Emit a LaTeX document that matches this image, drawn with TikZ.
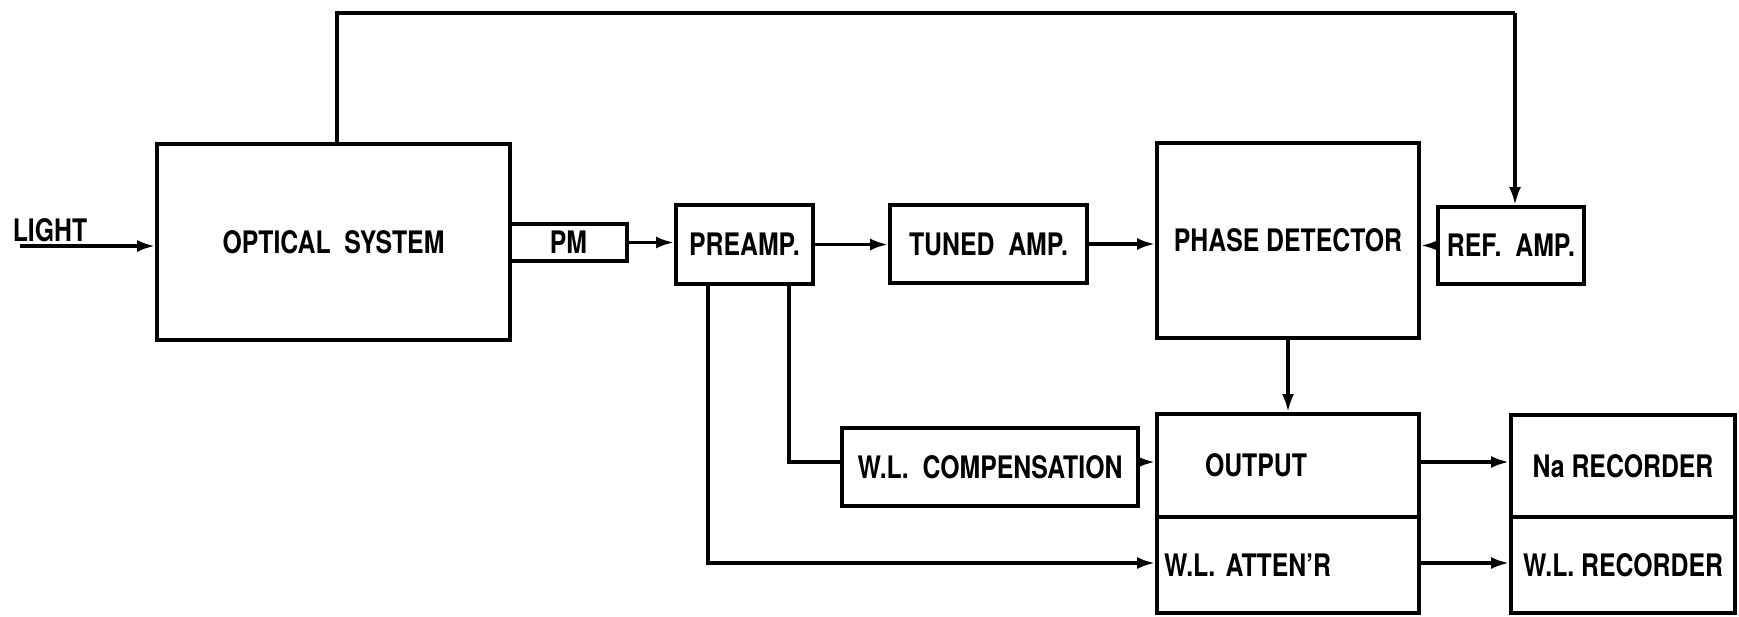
\documentclass[tikz,border=0pt]{standalone}
\usepackage{fontspec}
\setmainfont{TeX Gyre Heros}[FakeStretch=0.8]
\usetikzlibrary{arrows.meta}
\frenchspacing
\begin{document}
\begin{tikzpicture}[x=0.5pt,y=-0.5pt,
  box/.style={draw, line width=2pt, inner sep=0pt, font=\fontsize{15.5}{18}\bfseries\selectfont},
  lbox/.style={box, align=left},
  conn/.style={line width=1.6pt},
  arr/.style={conn, -{Latex[length=9pt,width=6pt]}},
  lbl/.style={inner sep=0pt, font=\fontsize{15.5}{18}\bfseries\selectfont}]
\useasboundingbox (0,0) rectangle (1739,616);
% boxes
\node[box, minimum width=176.5pt, minimum height=98pt] (opt) at (333.5,242) {OPTICAL\ \ SYSTEM};
\node[box, minimum width=58.5pt, minimum height=18.5pt] (pm) at (568.5,242.5) {PM};
\node[box, minimum width=68.5pt, minimum height=39.5pt] (pre) at (744.5,244.5) {PREAMP.};
\node[box, minimum width=98.5pt, minimum height=39pt] (tuned) at (988.5,244) {TUNED\ \ AMP.};
\node[box, minimum width=131pt, minimum height=97.5pt] (phase) at (1288,240.5) {PHASE DETECTOR};
\node[box, minimum width=73pt, minimum height=38.5pt] (ref) at (1511,245.5) {REF.\ \ AMP.};
\node[box, minimum width=148pt, minimum height=39pt] (comp) at (990,467) {W.L.\ \ COMPENSATION};
\node[lbox, text width=131pt, minimum height=51.5pt] (out) at (1288,465.5) {\hspace*{24pt}OUTPUT};
\node[lbox, text width=131pt, minimum height=48pt] (atten) at (1288,565) {\hspace*{3.5pt}W.L. ATTEN’R};
\node[box, minimum width=112pt, minimum height=51pt] (narec) at (1623,466) {Na RECORDER};
\node[box, minimum width=112pt, minimum height=48pt] (wlrec) at (1623,565) {W.L. RECORDER};
\node[lbl] (light) at (50,230) {LIGHT};
% coordinates
\coordinate (lstart) at (20,246);
\coordinate (tl) at (337,13);
\coordinate (tr) at (1515,13);
\coordinate (b1) at (789,462);
\coordinate (b2) at (708,563);
% connectors
\draw[arr] (lstart) -- (lstart -| opt.west);
\draw[conn] (opt.north -| tl) -- (tl) -- (tr);
\draw[arr] (tr) -- (ref.north -| tr);
\draw[arr] (pm.east) -- (pm.east -| pre.west);
\draw[arr] (pre.east) -- (pre.east -| tuned.west);
\draw[arr] (tuned.east) -- (tuned.east -| phase.west);
\draw[arr] (ref.west) -- (ref.west -| phase.east);
\draw[arr] (phase.south) -- (out.north);
\draw[conn] (pre.south -| b1) -- (b1) -- (b1 -| comp.west);
\draw[arr] (comp.east |- b1) -- (b1 -| out.west);
\draw[arr] (pre.south -| b2) -- (b2) -- (b2 -| atten.west);
\draw[arr] (out.east |- b1) -- (b1 -| narec.west);
\draw[arr] (atten.east |- b2) -- (b2 -| wlrec.west);
\end{tikzpicture}
\end{document}
